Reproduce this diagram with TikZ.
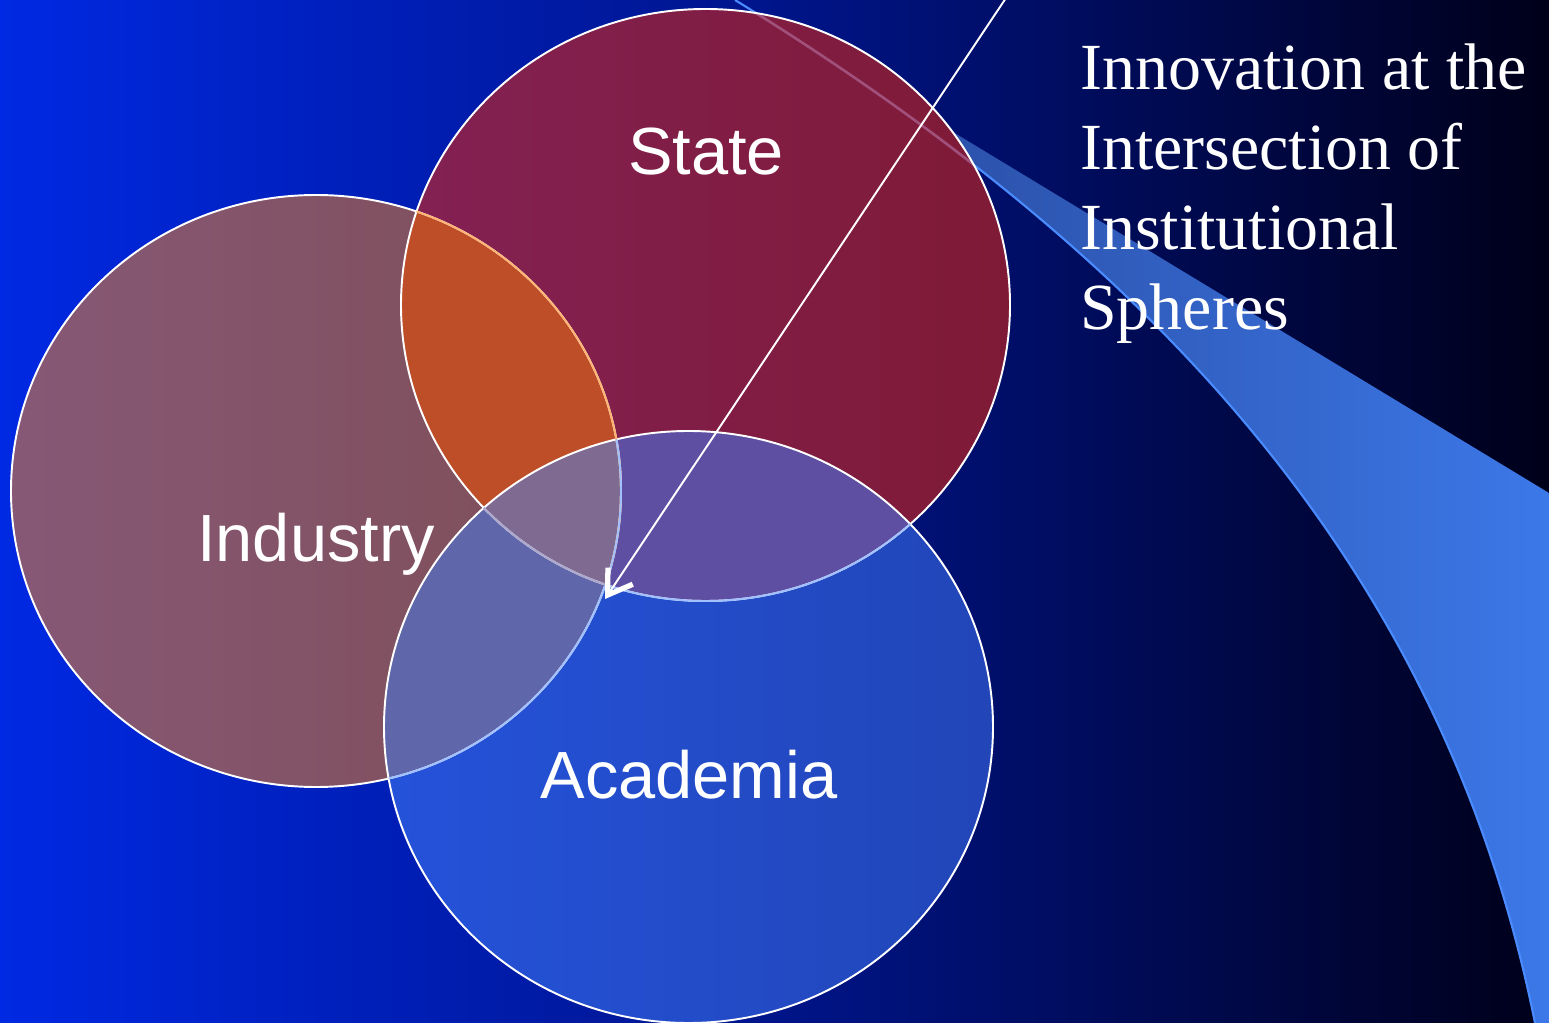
\documentclass[tikz,border=0pt]{standalone}
\usepackage{fontspec}
\setmainfont{Liberation Serif}
\setsansfont{Liberation Sans}
\usetikzlibrary{arrows.meta}
\tikzset{rim/.style = {draw = white, line width = 1.1pt}}
\tikzset{lbl/.style = {text = white, inner sep = 0, anchor = base,
    font = \sffamily\fontsize{38}{40}\selectfont}}
\definecolor{mbgleft}{rgb}{0.0, 0.16, 0.89}
\definecolor{mbgmid}{rgb}{0.0, 0.08, 0.54}
\definecolor{mbgright}{rgb}{0.0, 0.0, 0.1}
\definecolor{mswl}{RGB}{38, 68, 149}
\definecolor{mswr}{RGB}{60, 120, 232}
\definecolor{mswedge}{RGB}{74, 140, 255}
\definecolor{mswpink}{RGB}{160, 80, 122}
\definecolor{mindl}{RGB}{135, 88, 118}
\definecolor{mindr}{RGB}{126, 78, 86}
\definecolor{mstatel}{RGB}{131, 33, 84}
\definecolor{mstater}{RGB}{127, 26, 54}
\definecolor{macadl}{RGB}{36, 82, 218}
\definecolor{macadr}{RGB}{34, 70, 184}
\definecolor{morange}{RGB}{190, 78, 40}
\definecolor{mpurple}{RGB}{95, 79, 162}
\definecolor{mslate}{RGB}{96, 102, 170}
\definecolor{mtriple}{RGB}{127, 106, 146}
\definecolor{mrimorange}{RGB}{255, 180, 116}
\definecolor{mrimblue}{RGB}{160, 192, 255}
\definecolor{mrimgrey}{RGB}{176, 168, 200}
\def\indpath{(ic) ellipse [x radius = 305, y radius = 296]}
\def\statepath{(sc) ellipse [x radius = 304.5, y radius = 296]}
\def\acadpath{(ac) ellipse [x radius = 304.5, y radius = 296]}

\begin{document}
\begin{tikzpicture}[x = 0.02cm, y = -0.02cm]
    \useasboundingbox (0, 0) rectangle (1549, 1023);
    \clip (0, 0) rectangle (1549, 1023);
    \shade [left color = mbgleft, right color = mbgright, middle color = mbgmid]
      (0, 0) rectangle (1549, 1023);

    % swoosh
    \coordinate (sw) at (735, 0);
    \shade [left color = mswl, right color = mswr] (sw) -- (1549, 493)
      -- (1549, 1023) -- (1535, 1023) .. controls (1445, 575) and (1160, 262) .. (sw) -- cycle;
    \draw [mswedge, line width = 1.2pt] (1535, 1023) .. controls (1445, 575) and (1160, 262) .. (sw);

    \coordinate (ic) at (316, 491);
    \coordinate (sc) at (705.5, 305);
    \coordinate (ac) at (688.5, 727);

    \shade [left color = mindl, right color = mindr] \indpath;
    \shade [left color = mstatel, right color = mstater] \statepath;
    \begin{scope}
      \clip \statepath;
      \draw [mswpink, line width = 1.5pt]
        (1535, 1023) .. controls (1445, 575) and (1160, 262) .. (sw);
    \end{scope}
    \shade [left color = macadl, right color = macadr] \acadpath;

    % overlaps
    \begin{scope}
      \clip \indpath;
      \fill [morange] \statepath;
    \end{scope}
    \begin{scope}
      \clip \statepath;
      \fill [mpurple] \acadpath;
    \end{scope}
    \begin{scope}
      \clip \indpath;
      \fill [mslate] \acadpath;
    \end{scope}
    \begin{scope}
      \clip \indpath;
      \clip \statepath;
      \fill [mtriple] \acadpath;
    \end{scope}

    % rims
    \draw [rim] \indpath;
    \draw [rim] \statepath;
    \draw [rim] \acadpath;
    \begin{scope}
      \clip \statepath;
      \draw [rim, mrimorange] \indpath;
    \end{scope}
    \begin{scope}
      \clip \acadpath;
      \draw [rim, mrimblue] \indpath;
      \draw [rim, mrimblue] \statepath;
    \end{scope}
    \begin{scope}
      \clip \acadpath;
      \clip \indpath;
      \draw [rim, mrimgrey] \statepath;
    \end{scope}

    \node (state) [lbl] at (706, 175) {State};
    \node (industry) [lbl] at (316, 562) {Industry};
    \node (academia) [lbl] at (689, 798) {Academia};

    \node (title) [anchor = north west, align = left, inner sep = 0, text = white,
      font = \fontsize{37.5}{45.7}\selectfont] at (1080, 43)
      {Innovation at the\\Intersection of\\Institutional\\Spheres};

    \coordinate (src) at (1010, -8);
    \coordinate (tip) at (605, 599);
    \draw [white, line width = 1.1pt,
      -{Straight Barb[length = 13pt, width = 17pt, line width = 3pt]}] (src) -- (tip);
  \end{tikzpicture}
\end{document}
